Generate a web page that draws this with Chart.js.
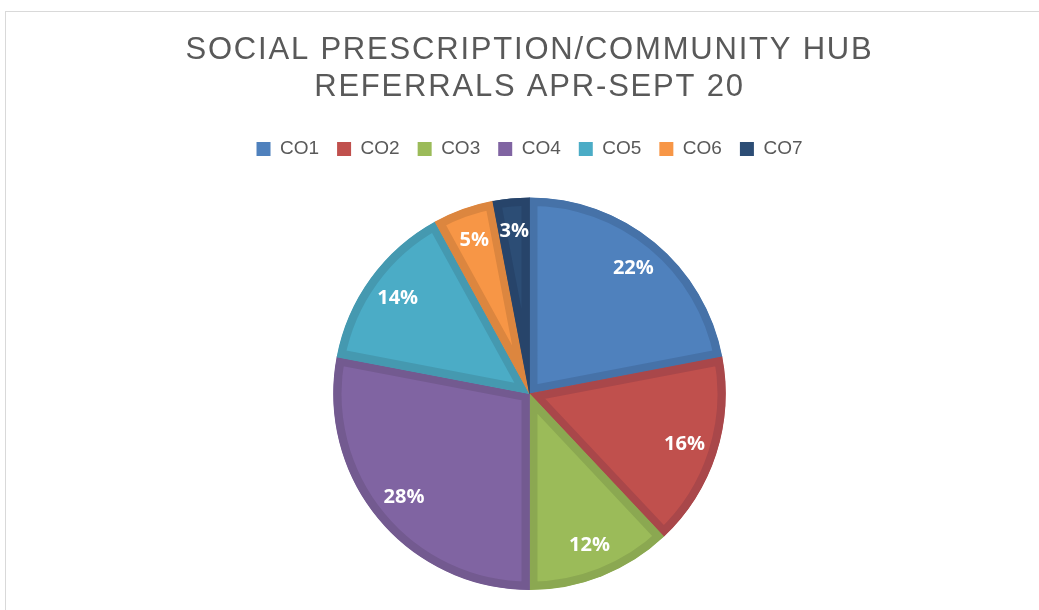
<!DOCTYPE html>
<html lang="en">
<head>
  <meta charset="UTF-8" />
  <title>Social Prescription Referrals</title>
  <script src="https://cdn.jsdelivr.net/npm/chart.js"></script>
  <style>
    body {
      margin: 0;
      background: #fff;
      overflow: hidden;
    }
    .frame {
      position: absolute;
      left: 5px;
      top: 11px;
      width: 1100px;
      height: 700px;
      border: 1px solid #d9d9d9;
    }
    #wrap {
      position: absolute;
      left: 0;
      top: 0;
      width: 1039px;
      height: 610px;
    }
  </style>
</head>
<body>
  <div class="frame"></div>
  <div id="wrap"><canvas id="pieChart"></canvas></div>

  <script>
    const titleLines = ['SOCIAL PRESCRIPTION/COMMUNITY HUB', 'REFERRALS APR-SEPT 20'];
    const categories = ['CO1', 'CO2', 'CO3', 'CO4', 'CO5', 'CO6', 'CO7'];
    const shares = [22, 16, 12, 28, 14, 5, 3];
    const fills = ['#4f81bd', '#c0504d', '#9bbb59', '#8064a2', '#4bacc6', '#f79646', '#2c4d75'];
    const edges = ['#4672a8', '#a9474a', '#8ba851', '#735a90', '#4599b0', '#dc863f', '#27446a'];

    // spaced-out title letters and a bit more room under the legend
    const layoutTweaks = {
      id: 'layoutTweaks',
      afterInit(chart) {
        const tb = chart.titleBlock;
        const drawTitle = tb.draw.bind(tb);
        tb.draw = function () {
          chart.ctx.save();
          chart.ctx.letterSpacing = '1.8px';
          drawTitle();
          chart.ctx.restore();
        };
        const lg = chart.legend;
        const fitLegend = lg.fit.bind(lg);
        lg.fit = function () {
          fitLegend();
          this.height += 29;
        };
      }
    };

    // percentage labels drawn inside each slice, near the rim
    const sliceLabels = {
      id: 'sliceLabels',
      afterDatasetsDraw(chart) {
        const { ctx } = chart;
        const meta = chart.getDatasetMeta(0);
        ctx.save();
        ctx.font = 'bold 20px "Open Sans", Arial, sans-serif';
        ctx.fillStyle = '#ffffff';
        ctx.textAlign = 'center';
        ctx.textBaseline = 'middle';
        meta.data.forEach((arc, i) => {
          const { x, y, startAngle, endAngle, outerRadius } = arc.getProps(['x', 'y', 'startAngle', 'endAngle', 'outerRadius'], true);
          const mid = (startAngle + endAngle) / 2;
          const r = outerRadius * 0.83;
          ctx.fillText(shares[i] + '%', x + Math.cos(mid) * r, y + Math.sin(mid) * r);
        });
        ctx.restore();
      }
    };

    const ctx = document.getElementById('pieChart').getContext('2d');
    new Chart(ctx, {
      type: 'pie',
      data: {
        labels: categories,
        datasets: [{
          data: shares,
          backgroundColor: fills,
          borderColor: edges,
          borderWidth: 8,
          borderAlign: 'inner'
        }]
      },
      options: {
        responsive: true,
        maintainAspectRatio: false,
        animation: false,
        layout: {
          padding: { left: 20, right: 0, top: 20, bottom: 20 }
        },
        plugins: {
          title: {
            display: true,
            text: titleLines,
            color: '#595959',
            font: { family: 'Arial, "Liberation Sans", sans-serif', size: 31, weight: 'normal', lineHeight: 1.2 },
            padding: { top: 12, bottom: 15 }
          },
          legend: {
            position: 'top',
            labels: {
              color: '#595959',
              font: { family: 'Arial, "Liberation Sans", sans-serif', size: 19 },
              boxWidth: 14,
              boxHeight: 14,
              padding: 18,
              generateLabels(chart) {
                return categories.map((name, i) => ({
                  text: name,
                  fillStyle: fills[i],
                  strokeStyle: fills[i],
                  fontColor: '#595959',
                  lineWidth: 0,
                  hidden: false,
                  index: i
                }));
              }
            }
          },
          tooltip: { enabled: false }
        }
      },
      plugins: [layoutTweaks, sliceLabels]
    });
  </script>
</body>
</html>
